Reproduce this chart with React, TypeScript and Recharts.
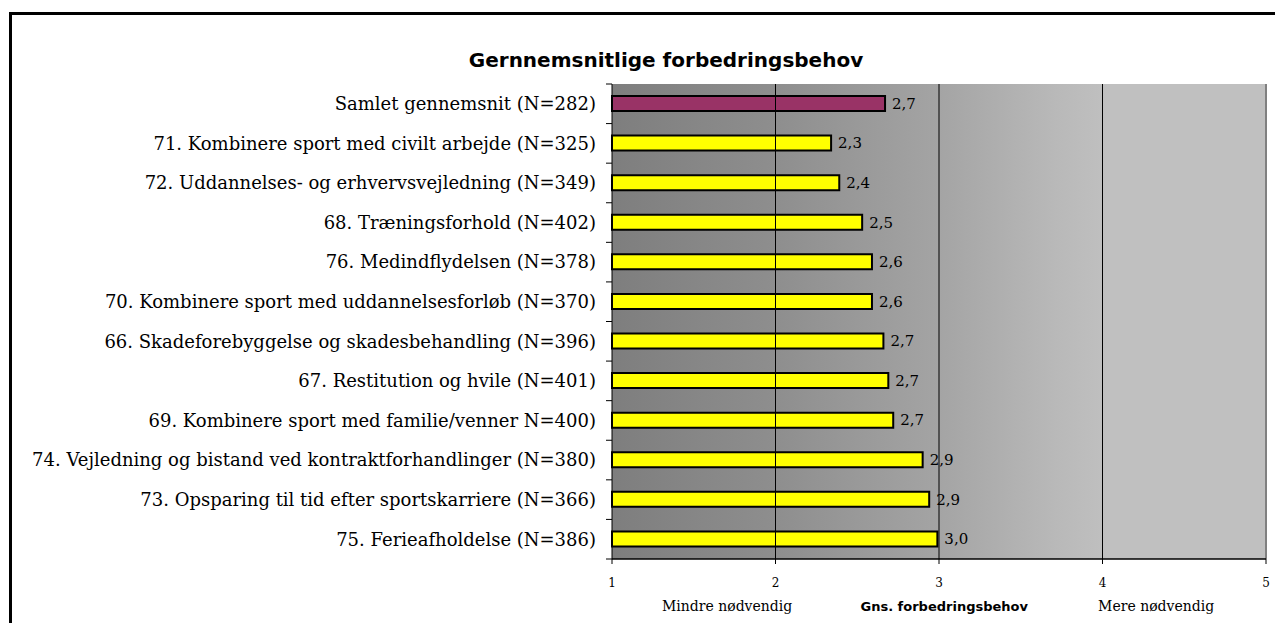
import { BarChart, Bar, XAxis, YAxis, CartesianGrid, ReferenceLine, LabelList, Cell } from "recharts";

const categories = [
    "Samlet gennemsnit (N=282)",
    "71. Kombinere sport med civilt arbejde (N=325)",
    "72. Uddannelses- og erhvervsvejledning (N=349)",
    "68. Træningsforhold (N=402)",
    "76. Medindflydelsen (N=378)",
    "70. Kombinere sport med uddannelsesforløb (N=370)",
    "66. Skadeforebyggelse og skadesbehandling (N=396)",
    "67. Restitution og hvile (N=401)",
    "69. Kombinere sport med familie/venner N=400)",
    "74. Vejledning og bistand ved kontraktforhandlinger (N=380)",
    "73. Opsparing til tid efter sportskarriere (N=366)",
    "75. Ferieafholdelse (N=386)",
];
const values = [2.67, 2.34, 2.39, 2.53, 2.59, 2.59, 2.66, 2.69, 2.72, 2.9, 2.94, 2.99];
const xTicks = [1, 2, 3, 4, 5];
const gridLines = [2, 3, 4];
const axisLabels = ["Mindre nødvendig", "Gns. forbedringsbehov", "Mere nødvendig"];
const title = "Gernnemsnitlige forbedringsbehov";

const data = categories.map((name, i) => ({ name, value: values[i] }));

const W = 1275;
const H = 623;
const TOP = 84;
const XAXIS_H = 64;
const YAXIS_W = 612;
const band = (H - TOP - XAXIS_H) / categories.length;
const serif = "'DejaVu Serif', serif";
const sans = "'DejaVu Sans', sans-serif";

const CategoryTick = (props: any) => {
    const { x, y, payload, index } = props;
    const ax = x + 16;
    return (
        <g>
            <text x={x} y={y} dy="0.35em" textAnchor="end" fontSize={18} fontFamily={serif} fill="#000">
                {payload.value}
            </text>
            <line x1={ax - 6} x2={ax} y1={y - band / 2} y2={y - band / 2} stroke="#000" />
            {index === categories.length - 1 && (
                <line x1={ax - 6} x2={ax} y1={y + band / 2} y2={y + band / 2} stroke="#000" />
            )}
        </g>
    );
};

const AxisCaptions = (props: any) => {
    const { x, y, width } = props.viewBox;
    const pos = [0.176, 0.508, 0.832];
    return (
        <g>
            {axisLabels.map((t, i) => (
                <text
                    key={t}
                    x={x + width * pos[i]}
                    y={y + 52}
                    textAnchor="middle"
                    fontSize={i === 1 ? 13 : 14}
                    fontWeight={i === 1 ? "bold" : "normal"}
                    fontFamily={i === 1 ? sans : serif}
                    fill="#000"
                >
                    {t}
                </text>
            ))}
        </g>
    );
};

export default function App() {
    return (
        <div style={{ position: "fixed", left: 0, top: 0, width: W, height: H, overflow: "hidden", background: "#fff" }}>
            <div
                style={{
                    position: "absolute",
                    left: 9,
                    top: 12,
                    width: 1400,
                    height: 800,
                    border: "3px solid #000",
                }}
            />
            <div
                style={{
                    position: "absolute",
                    left: 466,
                    width: 400,
                    top: 50,
                    textAlign: "center",
                    fontFamily: sans,
                    fontWeight: "bold",
                    fontSize: 20,
                    lineHeight: "20px",
                    color: "#000",
                }}
            >
                {title}
            </div>
            <div style={{ position: "absolute", left: 0, top: 0 }}>
                <BarChart
                    width={W}
                    height={H}
                    data={data}
                    layout="vertical"
                    margin={{ top: TOP, right: 9, bottom: 0, left: 0 }}
                    barCategoryGap={0}
                >
                    <defs>
                        <linearGradient id="plotBg" x1="0" y1="0" x2="1" y2="0">
                            <stop offset="0%" stopColor="#7e7e7e" />
                            <stop offset="25%" stopColor="#8e8e8e" />
                            <stop offset="50%" stopColor="#a4a4a4" />
                            <stop offset="68%" stopColor="#b9b9b9" />
                            <stop offset="76%" stopColor="#c0c0c0" />
                            <stop offset="100%" stopColor="#c0c0c0" />
                        </linearGradient>
                    </defs>
                    <CartesianGrid fill="url(#plotBg)" fillOpacity={1} horizontal={false} vertical={false} />
                    <XAxis
                        type="number"
                        domain={[1, 5]}
                        ticks={xTicks}
                        height={XAXIS_H}
                        axisLine={{ stroke: "#000", strokeWidth: 1.5 }}
                        tickLine={{ stroke: "#000" }}
                        tickSize={5}
                        tickMargin={14}
                        tick={{ fontSize: 12, fontFamily: serif, fill: "#000" }}
                        label={<AxisCaptions />}
                    />
                    <XAxis
                        xAxisId="top"
                        orientation="top"
                        type="number"
                        domain={[1, 5]}
                        height={0}
                        tick={false}
                        tickLine={false}
                        axisLine={{ stroke: "#808080", strokeWidth: 2 }}
                    />
                    <YAxis
                        type="category"
                        dataKey="name"
                        width={YAXIS_W}
                        interval={0}
                        axisLine={{ stroke: "#000" }}
                        tickLine={false}
                        tickSize={0}
                        tickMargin={16}
                        tick={<CategoryTick />}
                    />
                    {gridLines.map((g) => (
                        <ReferenceLine key={g} x={g} stroke="#000" strokeWidth={1} />
                    ))}
                    <ReferenceLine x={5} stroke="#808080" strokeWidth={2} />
                    <Bar dataKey="value" barSize={15} stroke="#000" strokeWidth={2} isAnimationActive={false}>
                        {data.map((d, i) => (
                            <Cell key={d.name} fill={i === 0 ? "#993366" : "#ffff00"} />
                        ))}
                        <LabelList
                            dataKey="value"
                            position="right"
                            offset={7}
                            formatter={(v: any) => Number(v).toFixed(1).replace(".", ",")}
                            style={{ fontSize: 15, fontFamily: serif, fill: "#000" }}
                        />
                    </Bar>
                </BarChart>
            </div>
        </div>
    );
}
